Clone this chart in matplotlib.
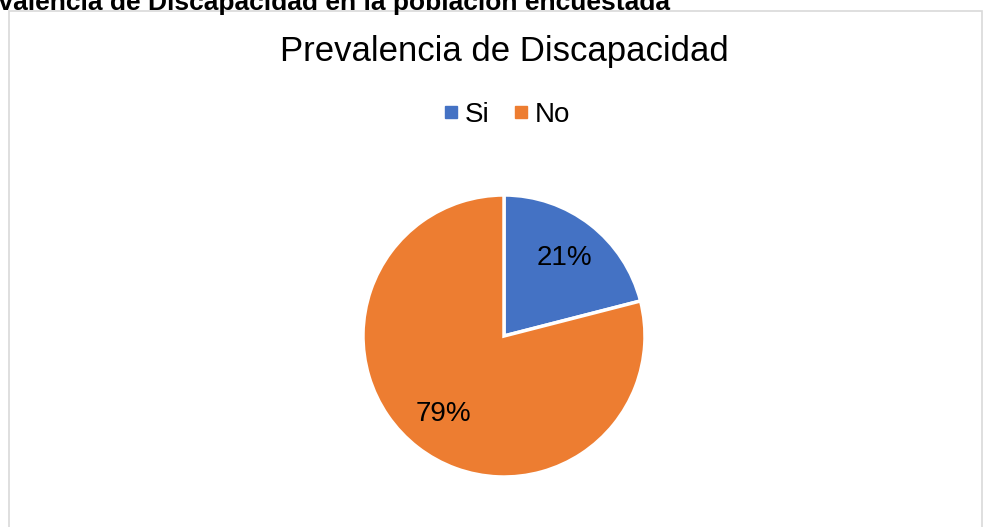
import matplotlib
matplotlib.use("Agg")
import matplotlib.pyplot as plt
from matplotlib.patches import Rectangle
from matplotlib.lines import Line2D

plt.rcParams['font.family'] = ['Liberation Sans', 'DejaVu Sans']

categories = ["Si", "No"]
shares = [21, 79]
colors = ["#4472C4", "#ED7D31"]
chart_title = "Prevalencia de Discapacidad"
caption = "Prevalencia de Discapacidad en la población encuestada"

W, H = 983, 527
fig = plt.figure(figsize=(W / 100, H / 100), dpi=100)

# caption line above the chart frame (partly cut at the page edge)
fig.text(670 / W, 1 - 10 / H, caption, ha='right', va='baseline',
         fontsize=19, fontweight='bold', color='black')

# chart frame
fig.add_artist(Rectangle((9 / W, -0.1), (982 - 9) / W, 1.1 - 10.5 / H,
                         transform=fig.transFigure, fill=False,
                         edgecolor='#D9D9D9', linewidth=1.2))

fig.text(504 / W, 1 - 52 / H, chart_title, ha='center', va='center',
         fontsize=25, color='black')

# pie
cx, cy, r = 504, H - 336, 141
ax = fig.add_axes([(cx - r) / W, (cy - r) / H, 2 * r / W, 2 * r / H])
wedges, texts, autotexts = ax.pie(
    shares, colors=colors, startangle=90, counterclock=False,
    autopct=lambda p: f"{p:.0f}%", pctdistance=0.7,
    wedgeprops=dict(edgecolor='white', linewidth=2.5),
    textprops=dict(fontsize=20, color='black'))
ax.set_xlim(-1.0, 1.0)
ax.set_ylim(-1.0, 1.0)
ax.set_aspect('equal')
ax.axis('off')

handles = [Line2D([], [], marker='s', linestyle='none', markersize=8,
                  markerfacecolor=c, markeredgecolor=c) for c in colors]
fig.legend(handles, categories, loc='center', bbox_to_anchor=(505 / W, 1 - 115 / H),
           ncol=2, frameon=False, fontsize=20, handletextpad=0.1,
           columnspacing=0.7, handlelength=0.8)

fig.savefig("out.png", dpi=100)
